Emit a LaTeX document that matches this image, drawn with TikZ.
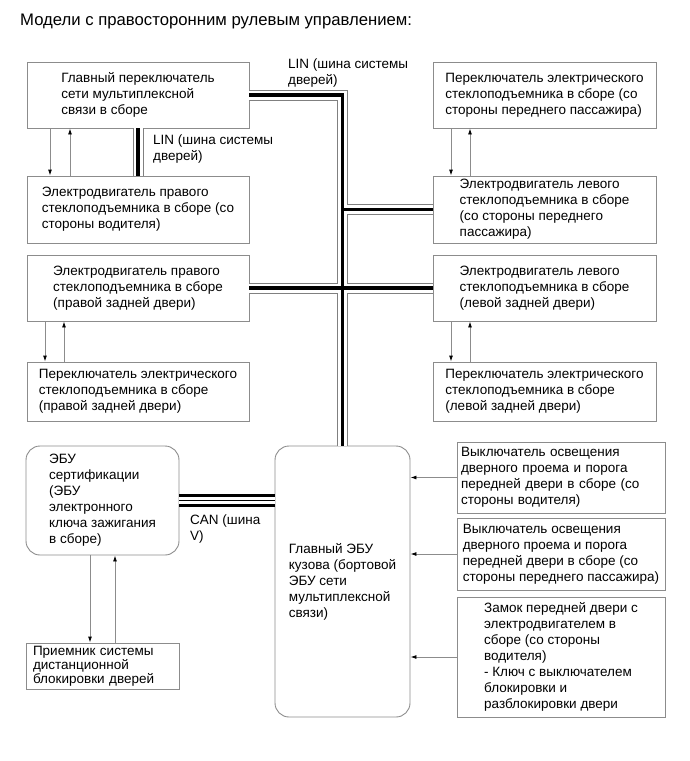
\documentclass[tikz,border=0pt]{standalone}
\usepackage{fontspec}
\setmainfont{Liberation Sans}
\usetikzlibrary{arrows.meta}
\definecolor{boxgray}{HTML}{8C8C8C}
\definecolor{wiregray}{HTML}{8C8C8C}

\begin{document}
\begin{tikzpicture}[x=1pt,y=-1pt,
  font=\fontsize{13.5}{16}\selectfont,
  box/.style={draw=boxgray,line width=0.9pt,minimum width=222pt,minimum height=66pt,align=left,inner sep=0pt},
  ecu/.style={box,rounded corners=14pt},
  lbl/.style={anchor=north west,align=left,inner sep=0pt},
  sig/.style={draw=wiregray,line width=0.9pt,-{Latex[length=6pt,width=4pt,color=black]}},
  linedge/.style={draw=gray,line width=11pt},
  linfill/.style={draw=white,line width=9pt},
  lincore/.style={draw=black,line width=3.5pt},
  canedge/.style={draw=black,line width=13pt},
  canfill/.style={draw=white,line width=7pt},
  cancore/.style={draw=black,line width=1pt}]
\useasboundingbox (0,0) rectangle (689,761);
\node[lbl,font=\fontsize{16.7}{19}\selectfont] (title) at (20,14) {Модели с правосторонним рулевым управлением:};
\node[box] (mainsw) at (138,95) {Главный переключатель\\сети мультиплексной\\связи в сборе};
\node[box,minimum height=67pt] (drvmotor) at (138,209.5) {Электродвигатель правого\\стеклоподъемника в сборе (со\\стороны водителя)};
\node[box,minimum width=223pt] (passw) at (544.5,95) {Переключатель электрического\\стеклоподъемника в сборе (со\\стороны переднего пассажира)};
\node[box,minimum width=223pt,minimum height=67pt] (pasmotor) at (544.5,209.5) {Электродвигатель левого\\стеклоподъемника в сборе\\(со стороны переднего\\пассажира)};
\node[box] (rrmotor) at (138,288) {Электродвигатель правого\\стеклоподъемника в сборе\\(правой задней двери)};
\node[box,minimum height=59pt] (rrsw) at (138,391.5) {Переключатель электрического\\стеклоподъемника в сборе\\(правой задней двери)};
\node[box,minimum width=223pt] (lrmotor) at (544.5,288) {Электродвигатель левого\\стеклоподъемника в сборе\\(левой задней двери)};
\node[box,minimum width=223pt,minimum height=59pt] (lrsw) at (544.5,391.5) {Переключатель электрического\\стеклоподъемника в сборе\\(левой задней двери)};
\node[ecu,minimum width=153pt,minimum height=109pt] (cert) at (102.5,500.5) {ЭБУ\\сертификации\\(ЭБУ\\электронного\\ключа зажигания\\в сборе)};
\node[box,minimum width=153pt,minimum height=46pt,text width=139pt,font=\fontsize{13.5}{14}\selectfont] (rcv) at (102.5,666) {Приемник системы\\дистанционной\\блокировки дверей};
\node[ecu,minimum width=135pt,minimum height=271pt] (body) at (342.5,581.5) {Главный ЭБУ\\кузова (бортовой\\ЭБУ сети\\мультиплексной\\связи)};
\node[box,minimum width=208pt,minimum height=71pt,text width=200pt] (dlight) at (561,477.5) {Выключатель освещения\\дверного проема и порога\\передней двери в сборе (со\\стороны водителя)};
\node[box,minimum width=208pt,minimum height=72pt] (plight) at (561,554) {Выключатель освещения\\дверного проема и порога\\передней двери в сборе (со\\стороны переднего пассажира)};
\node[box,minimum width=208pt,minimum height=120pt] (dlock) at (561,657) {Замок передней двери с\\электродвигателем в\\сборе (со стороны\\водителя)\\- Ключ с выключателем\\блокировки и\\разблокировки двери};
\node[lbl] (lintop) at (288,59) {LIN (шина системы\\дверей)};
\node[lbl] (linmid) at (153,135) {LIN (шина системы\\дверей)};
\node[lbl] (canlbl) at (190,515) {CAN (шина\\V)};
\foreach \layer in {linedge,linfill,lincore}{
  \draw[\layer] (mainsw.east) -| (body.north);
  \draw[\layer] (pasmotor.west) -- (pasmotor.west -| body.north);
  \draw[\layer] (rrmotor.east) -- (lrmotor.west);
  \draw[\layer] (mainsw.south) -- (drvmotor.north);
}
\foreach \layer in {canedge,canfill,cancore}
  \draw[\layer] (cert.east) -- (cert.east -| body.west);
\draw[sig] ([xshift=-88pt]mainsw.south) -- ([xshift=-88pt]drvmotor.north);
\draw[sig] ([xshift=-68pt]drvmotor.north) -- ([xshift=-68pt]mainsw.south);
\draw[sig] ([xshift=-93.5pt]passw.south) -- ([xshift=-93.5pt]pasmotor.north);
\draw[sig] ([xshift=-74.5pt]pasmotor.north) -- ([xshift=-74.5pt]passw.south);
\draw[sig] ([xshift=-93pt]rrmotor.south) -- ([xshift=-93pt]rrsw.north);
\draw[sig] ([xshift=-74pt]rrsw.north) -- ([xshift=-74pt]rrmotor.south);
\draw[sig] ([xshift=-93.5pt]lrmotor.south) -- ([xshift=-93.5pt]lrsw.north);
\draw[sig] ([xshift=-74.5pt]lrsw.north) -- ([xshift=-74.5pt]lrmotor.south);
\draw[sig] ([xshift=-12.5pt]cert.south) -- ([xshift=-12.5pt]rcv.north);
\draw[sig] ([xshift=12.5pt]rcv.north) -- ([xshift=12.5pt]cert.south);
\draw[sig] (dlight.west) -- (dlight.west -| body.east);
\draw[sig] (plight.west) -- (plight.west -| body.east);
\draw[sig] (dlock.west) -- (dlock.west -| body.east);
\end{tikzpicture}
\end{document}
